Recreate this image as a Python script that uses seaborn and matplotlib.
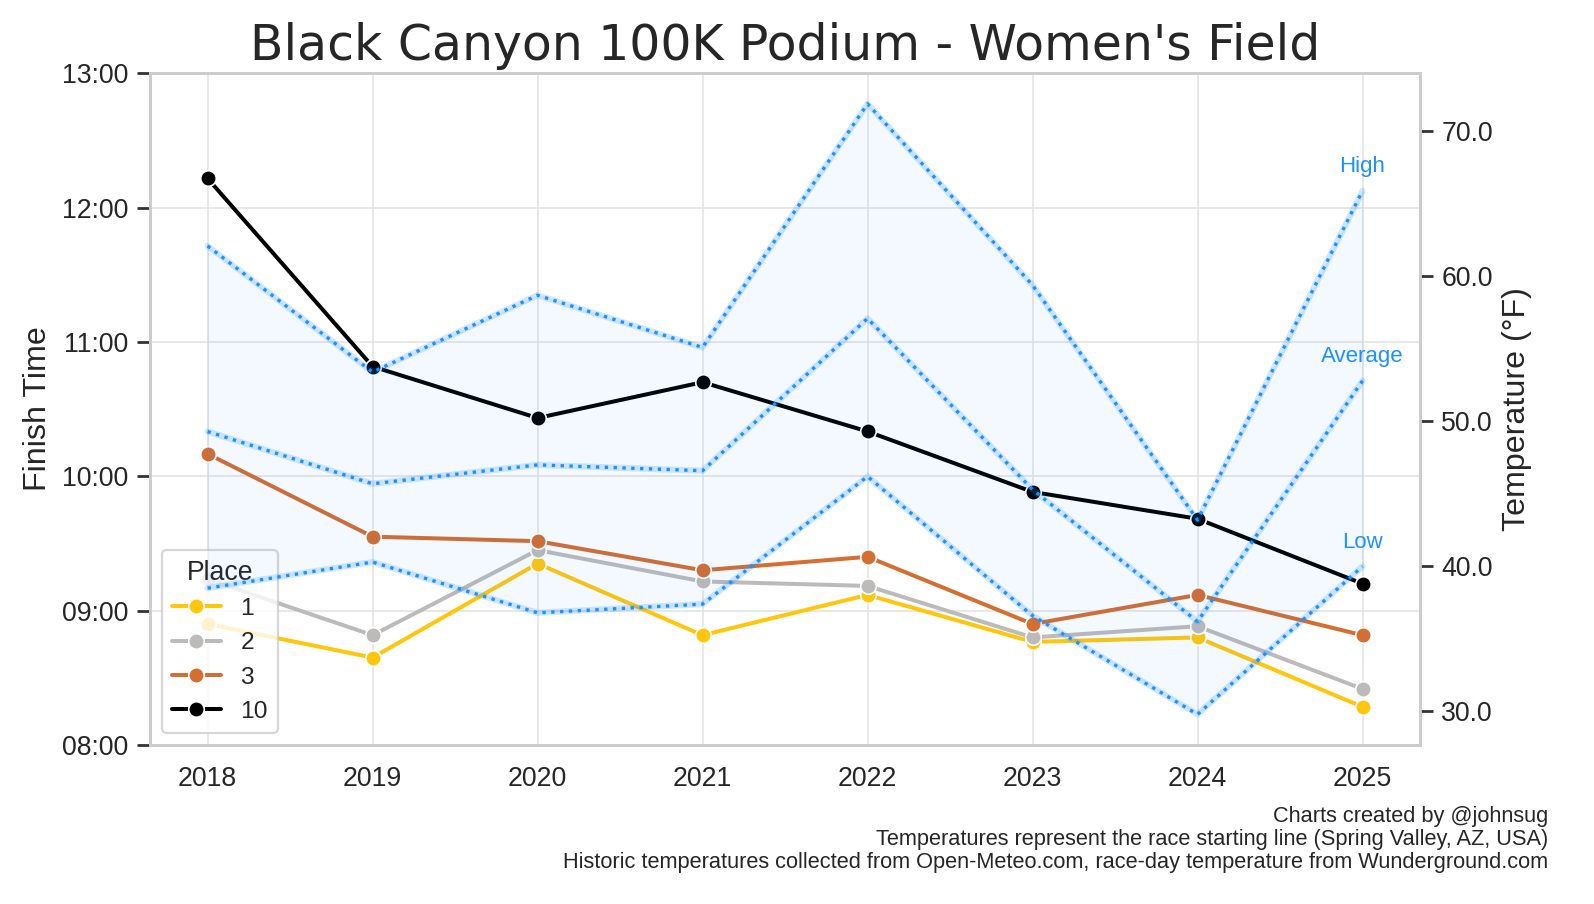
import numpy as np
import pandas as pd
import matplotlib.pyplot as plt
import matplotlib.ticker as mticker
import seaborn as sns

years = [2018, 2019, 2020, 2021, 2022, 2023, 2024, 2025]

# finish times (h:mm) by place
place_1 = ["8:54", "8:39", "9:21", "8:49", "9:07", "8:46", "8:48", "8:17"]
place_2 = ["9:14", "8:49", "9:27", "9:13", "9:11", "8:48", "8:53", "8:25"]
place_3 = ["10:10", "9:33", "9:31", "9:18", "9:24", "8:54", "9:07", "8:49"]
place_10 = ["12:13", "10:49", "10:26", "10:42", "10:20", "9:53", "9:41", "9:12"]

# race-day temperatures (F)
temp_high = [62.1, 53.4, 58.7, 55.1, 71.9, 59.4, 43.2, 65.9]
temp_avg = [49.3, 45.7, 47.0, 46.6, 57.1, 45.3, 36.2, 52.8]
temp_low = [38.5, 40.3, 36.8, 37.4, 46.2, 36.6, 29.8, 40.0]

places = ["1", "2", "3", "10"]
colors = ["#FFC60B", "#BDBBBA", "#D46E31", "#000000"]


def to_hours(s):
    h, m = s.split(":")
    return int(h) + int(m) / 60


rows = []
for p, times in zip(places, [place_1, place_2, place_3, place_10]):
    for y, t in zip(years, times):
        rows.append({"Year": y, "Place": p, "Time": to_hours(t)})
df = pd.DataFrame(rows)

sns.set_theme(style="whitegrid", context="notebook",
              rc={"grid.color": "#e2e2e2", "grid.linewidth": 0.7})
plt.rcParams["font.family"] = ["Liberation Sans", "DejaVu Sans"]

fig, ax = plt.subplots(figsize=(1594 / 160, 904 / 160), dpi=160)
fig.subplots_adjust(left=0.094, right=0.891, top=0.919, bottom=0.176)

sns.lineplot(data=df, x="Year", y="Time", hue="Place", palette=colors,
             marker="o", markersize=7, linewidth=1.8, ax=ax)
ax.set_ylim(8, 13)
ax.yaxis.set_major_formatter(mticker.FuncFormatter(
    lambda v, pos: "%02d:%02d" % (int(v), round((v - int(v)) * 60))))
ax.set_xticks(years)
ax.set_xlabel("")
ax.set_ylabel("Finish Time", fontsize=14.5)
ax.tick_params(axis="y", left=True, length=6, color="#333333")
ax.tick_params(labelsize=12)
ax.legend(title="Place", loc="lower left", fontsize=11, title_fontsize=12)
ax.set_title("Black Canyon 100K Podium - Women's Field", fontsize=22,
             family="DejaVu Sans", color="#262626")

# temperature on a second axis
ax2 = ax.twinx()
ax2.grid(False)
ax2.fill_between(years, temp_low, temp_high, color="dodgerblue", alpha=0.05)
for vals, name in zip([temp_high, temp_avg, temp_low], ["High", "Average", "Low"]):
    ax2.plot(years, vals, color="dodgerblue", alpha=0.2, linewidth=2.8)
    ax2.plot(years, vals, color="dodgerblue", linestyle=":", linewidth=1.5)
    ax2.annotate(name, (years[-1], vals[-1]), xytext=(0, 6),
                 textcoords="offset points", ha="center", va="bottom",
                 color="dodgerblue", fontsize=10)
ax2.yaxis.set_major_formatter(mticker.FormatStrFormatter("%.1f"))
ax2.set_ylabel("Temperature (°F)", fontsize=14.5)
ax2.tick_params(axis="y", right=True, length=6, color="#333333", labelsize=12)

fig.text(0.971, 0.108,
         "Charts created by @johnsug\n"
         "Temperatures represent the race starting line (Spring Valley, AZ, USA)\n"
         "Historic temperatures collected from Open-Meteo.com, race-day temperature from Wunderground.com",
         ha="right", va="top", fontsize=9.8, color="#262626", linespacing=1.1)

plt.savefig("out.png", dpi=160)
